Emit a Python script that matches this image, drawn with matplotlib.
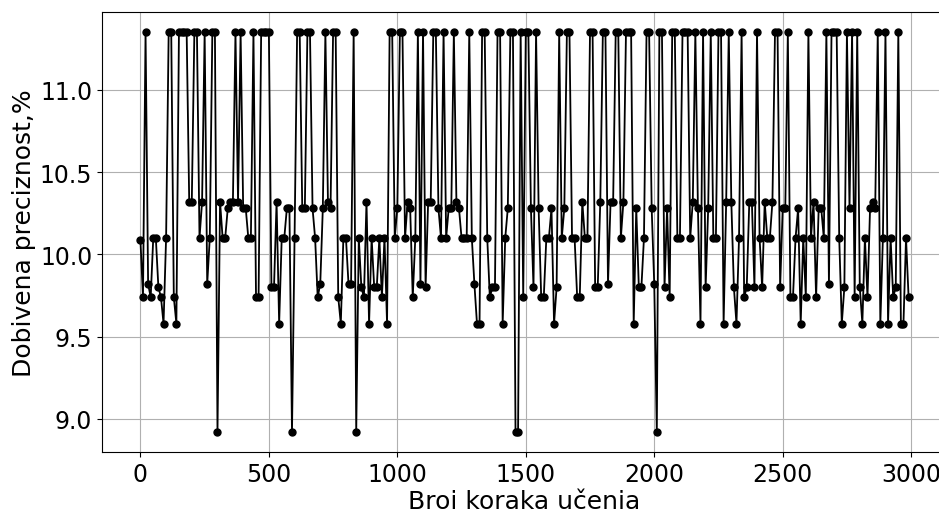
import matplotlib
matplotlib.use("Agg")
import matplotlib.pyplot as plt
import numpy as np

step_size = 10
precision = [
    # 0-49
    10.09, 9.74, 11.35, 9.82, 9.74, 10.10, 10.10, 9.80, 9.74, 9.58,
    10.10, 11.35, 11.35, 9.74, 9.58, 11.35, 11.35, 11.35, 11.35, 10.32,
    10.32, 11.35, 11.35, 10.10, 10.32, 11.35, 9.82, 10.10, 11.35, 11.35,
    8.92, 10.32, 10.10, 10.10, 10.28, 10.32, 10.32, 11.35, 10.32, 11.35,
    10.28, 10.28, 10.10, 10.10, 11.35, 9.74, 9.74, 11.35, 11.35, 11.35,
    # 50-99
    11.35, 9.80, 9.80, 10.32, 9.58, 10.10, 10.10, 10.28, 10.28, 8.92,
    10.10, 11.35, 11.35, 10.28, 10.28, 11.35, 11.35, 10.28, 10.10, 9.74,
    9.82, 10.28, 11.35, 10.32, 10.28, 11.35, 11.35, 9.74, 9.58, 10.10,
    10.10, 9.82, 9.82, 11.35, 8.92, 10.10, 9.80, 9.74, 10.32, 9.58,
    10.10, 9.80, 9.80, 10.10, 9.74, 10.10, 9.58, 11.35, 11.35, 10.10,
    # 100-149
    10.28, 11.35, 11.35, 10.10, 10.32, 10.28, 9.74, 10.10, 11.35, 9.82,
    11.35, 9.80, 10.32, 10.32, 11.35, 11.35, 10.28, 10.10, 11.35, 10.10,
    10.28, 10.28, 11.35, 10.32, 10.28, 10.10, 10.10, 10.10, 11.35, 10.10,
    9.82, 9.58, 9.58, 11.35, 11.35, 10.10, 9.74, 9.80, 9.80, 11.35,
    11.35, 9.58, 10.10, 10.28, 11.35, 11.35, 8.92, 8.92, 11.35, 9.74,
    # 150-199
    11.35, 11.35, 10.28, 9.80, 11.35, 10.28, 9.74, 9.74, 10.10, 10.10,
    10.28, 9.58, 9.80, 11.35, 10.10, 10.28, 11.35, 11.35, 10.10, 10.10,
    9.74, 9.74, 10.32, 10.10, 10.10, 11.35, 11.35, 9.80, 9.80, 10.32,
    11.35, 11.35, 9.82, 10.32, 10.32, 11.35, 11.35, 10.10, 10.32, 11.35,
    11.35, 11.35, 9.58, 10.28, 9.80, 9.80, 10.10, 11.35, 11.35, 10.28,
    # 200-249
    9.82, 8.92, 11.35, 11.35, 9.80, 10.28, 9.74, 11.35, 11.35, 10.10,
    10.10, 11.35, 11.35, 11.35, 10.10, 10.32, 11.35, 10.28, 9.58, 11.35,
    9.80, 10.28, 11.35, 10.10, 10.10, 11.35, 11.35, 9.58, 10.32, 11.35,
    10.32, 9.80, 9.58, 10.10, 11.35, 9.74, 9.80, 10.32, 10.32, 9.80,
    11.35, 10.10, 9.80, 10.32, 10.10, 10.10, 10.32, 11.35, 11.35, 9.80,
    # 250-299
    10.28, 10.28, 11.35, 9.74, 9.74, 10.10, 10.28, 9.58, 10.10, 9.74,
    11.35, 10.10, 10.32, 9.74, 10.28, 10.28, 10.10, 11.35, 9.82, 11.35,
    11.35, 11.35, 10.10, 9.58, 9.80, 11.35, 10.28, 11.35, 9.74, 11.35,
    9.80, 9.58, 10.10, 9.74, 10.28, 10.32, 10.28, 11.35, 9.58, 10.10,
    11.35, 9.58, 10.10, 9.74, 9.80, 11.35, 9.58, 9.58, 10.10, 9.74,
]
steps = np.arange(len(precision)) * step_size

x_label = "Broj koraka učenja"
y_label = "Dobivena preciznost,%"
y_ticks = [9.0, 9.5, 10.0, 10.5, 11.0]

W, H = 939, 510
fig = plt.figure(figsize=(W / 100, H / 100), dpi=100)
left_px, right_px, top_px, bottom_px = 102, 947, 13.4, 453.1
ax = fig.add_axes([left_px / W, (H - bottom_px) / H,
                   (right_px - left_px) / W, (bottom_px - top_px) / H])

ax.plot(steps, precision, color="black", linewidth=1.3,
        marker="o", markersize=5)
ax.set_yticks(y_ticks)
ax.grid(True, color="#b0b0b0", linewidth=0.8)
ax.set_axisbelow(True)
ax.tick_params(axis="both", labelsize=17)
ax.set_xlabel(x_label, fontsize=18, labelpad=1)
ax.set_ylabel(y_label, fontsize=18, labelpad=3)

fig.savefig("out.png", dpi=100)
